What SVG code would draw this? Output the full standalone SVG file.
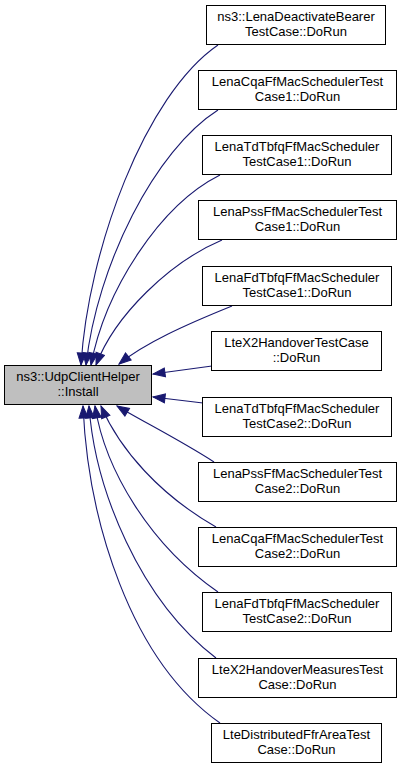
<svg xmlns="http://www.w3.org/2000/svg" width="400" height="769" viewBox="0 0 400 769">
<style>
.n rect{fill:#ffffff;stroke:#000000;stroke-width:1}
.m rect{fill:#bfbfbf;stroke:#000000;stroke-width:1}
text{font-family:"Liberation Sans",Arial,sans-serif;font-size:13px;fill:#000000;text-anchor:middle}
.e path{fill:none;stroke:#191970;stroke-width:1.1;marker-end:url(#ah)}
</style>
<defs>
<marker id="ah" markerUnits="userSpaceOnUse" markerWidth="14" markerHeight="11" refX="13" refY="5.5" orient="auto">
<path d="M1,1 L13,5.5 L1,10 z" fill="#191970" stroke="#191970" stroke-width="1"/>
</marker>
</defs>
<g id="connectors" class="e">
<path d="M218,45 C145,95 88,250 81,365"/>
<path d="M218,110 C155,150 97,265 86,365"/>
<path d="M220,175 C160,205 105,290 91,365"/>
<path d="M222,240 C170,262 115,315 96,365"/>
<path d="M232,306 C185,325 145,343 119,364"/>
<path d="M212,366 L153,374"/>
<path d="M203,403 L153,397"/>
<path d="M214,462 C180,440 140,420 117,406"/>
<path d="M216,527 C160,495 120,450 101,406"/>
<path d="M218,592 C150,545 105,470 95,406"/>
<path d="M216,658 C140,600 95,490 89,406"/>
<path d="M220,723 C130,660 88,520 83,406"/>
</g>
<g id="main" class="m"><rect x="4.5" y="365.5" width="147" height="39"/><text x="78" y="381">ns3::UdpClientHelper</text><text x="78" y="396">::Install</text></g>
<g id="n1" class="n"><rect x="206.5" y="5.5" width="179" height="39"/><text x="296" y="21">ns3::LenaDeactivateBearer</text><text x="296" y="36">TestCase::DoRun</text></g>
<g id="n2" class="n"><rect x="198.5" y="70.5" width="198" height="39"/><text x="297.5" y="86">LenaCqaFfMacSchedulerTest</text><text x="297.5" y="101">Case1::DoRun</text></g>
<g id="n3" class="n"><rect x="202.5" y="135.5" width="189" height="39"/><text x="297" y="151">LenaTdTbfqFfMacScheduler</text><text x="297" y="166">TestCase1::DoRun</text></g>
<g id="n4" class="n"><rect x="198.5" y="200.5" width="198" height="39"/><text x="297.5" y="216">LenaPssFfMacSchedulerTest</text><text x="297.5" y="231">Case1::DoRun</text></g>
<g id="n5" class="n"><rect x="202.5" y="266.5" width="189" height="39"/><text x="297" y="282">LenaFdTbfqFfMacScheduler</text><text x="297" y="297">TestCase1::DoRun</text></g>
<g id="n6" class="n"><rect x="211.5" y="331.5" width="170" height="39"/><text x="296.5" y="347">LteX2HandoverTestCase</text><text x="296.5" y="362">::DoRun</text></g>
<g id="n7" class="n"><rect x="202.5" y="397.5" width="189" height="39"/><text x="297" y="413">LenaTdTbfqFfMacScheduler</text><text x="297" y="428">TestCase2::DoRun</text></g>
<g id="n8" class="n"><rect x="198.5" y="462.5" width="198" height="39"/><text x="297.5" y="478">LenaPssFfMacSchedulerTest</text><text x="297.5" y="493">Case2::DoRun</text></g>
<g id="n9" class="n"><rect x="198.5" y="527.5" width="198" height="39"/><text x="297.5" y="543">LenaCqaFfMacSchedulerTest</text><text x="297.5" y="558">Case2::DoRun</text></g>
<g id="n10" class="n"><rect x="202.5" y="592.5" width="189" height="39"/><text x="297" y="608">LenaFdTbfqFfMacScheduler</text><text x="297" y="623">TestCase2::DoRun</text></g>
<g id="n11" class="n"><rect x="198.5" y="658.5" width="198" height="39"/><text x="297.5" y="674">LteX2HandoverMeasuresTest</text><text x="297.5" y="689">Case::DoRun</text></g>
<g id="n12" class="n"><rect x="211.5" y="723.5" width="170" height="39"/><text x="296.5" y="739">LteDistributedFfrAreaTest</text><text x="296.5" y="754">Case::DoRun</text></g>
</svg>
